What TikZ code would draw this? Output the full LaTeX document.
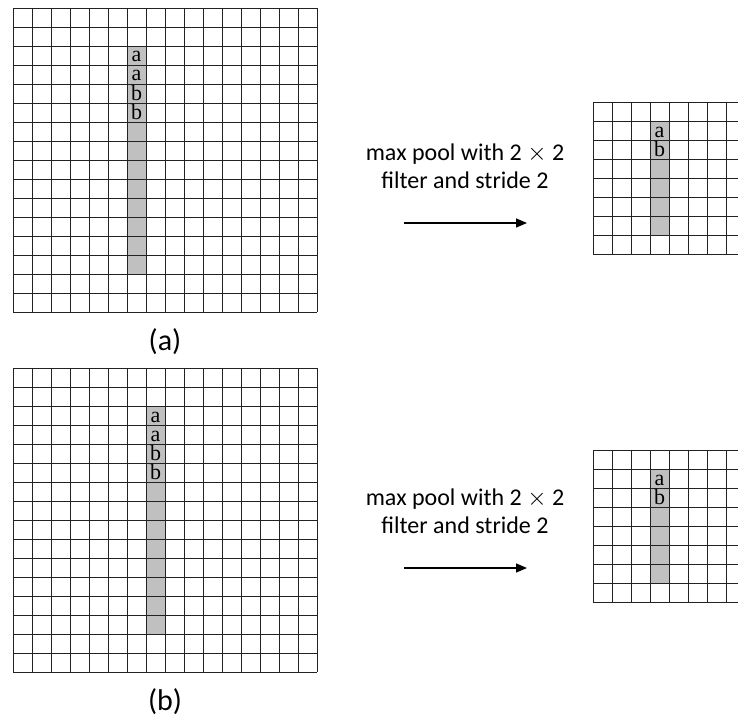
\documentclass[tikz,border=0pt]{standalone}
\usepackage{fontspec}
\setmainfont{Liberation Serif}
\newfontfamily\labelfont{Carlito}
\usepackage{xcolor}
\usepackage{tikz}
\usetikzlibrary{arrows.meta,positioning}
\definecolor{cellGray}{HTML}{C0C0C0}
\definecolor{lineDark}{HTML}{222222}

\begin{document}
\begin{tikzpicture}[x=1pt, y=-1pt, >={Triangle[length=11pt,width=9pt]},
    gridline/.style={draw=lineDark, line width=0.9pt},
    letter/.style={anchor=base, inner sep=0pt, font=\fontsize{22}{22}\selectfont},
    oplabel/.style={align=center, font=\labelfont\fontsize{24}{28}\selectfont},
    sublabel/.style={font=\labelfont\fontsize{30}{34}\selectfont}]
    \useasboundingbox (0,0) rectangle (738,717);
    \clip (0,0) rectangle (738,717);

    % (a) input map
    \fill[cellGray] (127,46) rectangle (146,274);
    \foreach \i in {0,...,16} {
        \draw[gridline] (13+19*\i,8) -- (13+19*\i,312);
        \draw[gridline] (13,8+19*\i) -- (317,8+19*\i);
    }
    \node[letter] (inA1) at (136.5,62) {a};
    \node[letter] (inA2) at (136.5,81) {a};
    \node[letter] (inA3) at (136.5,100) {b};
    \node[letter] (inA4) at (136.5,119) {b};

    % (a) pooled map
    \fill[cellGray] (650,121) rectangle (669,235);
    \foreach \i in {0,...,8} {
        \draw[gridline] (593+19*\i,102) -- (593+19*\i,254);
        \draw[gridline] (593,102+19*\i) -- (745,102+19*\i);
    }
    \node[letter] (outA1) at (659.5,137) {a};
    \node[letter] (outA2) at (659.5,156) {b};

    \node[oplabel] (opA) at (465,166) {max pool with 2 $\times$ 2\\filter and stride 2};
    \coordinate (arrA1) at (404,223);
    \coordinate (arrA2) at (527,223);
    \draw[->, line width=1.4pt] (arrA1) -- (arrA2);
    \node[sublabel] (capA) at (165,342) {(a)};

    % (b) input map
    \fill[cellGray] (146,406) rectangle (165,634);
    \foreach \i in {0,...,16} {
        \draw[gridline] (13+19*\i,368) -- (13+19*\i,672);
        \draw[gridline] (13,368+19*\i) -- (317,368+19*\i);
    }
    \node[letter] (inB1) at (155.5,422) {a};
    \node[letter] (inB2) at (155.5,441) {a};
    \node[letter] (inB3) at (155.5,460) {b};
    \node[letter] (inB4) at (155.5,479) {b};

    % (b) pooled map
    \fill[cellGray] (650,469) rectangle (669,583);
    \foreach \i in {0,...,8} {
        \draw[gridline] (593+19*\i,450) -- (593+19*\i,602);
        \draw[gridline] (593,450+19*\i) -- (745,450+19*\i);
    }
    \node[letter] (outB1) at (659.5,485) {a};
    \node[letter] (outB2) at (659.5,504) {b};

    \node[oplabel] (opB) at (465,511) {max pool with 2 $\times$ 2\\filter and stride 2};
    \coordinate (arrB1) at (404,568);
    \coordinate (arrB2) at (527,568);
    \draw[->, line width=1.4pt] (arrB1) -- (arrB2);
    \node[sublabel] (capB) at (165,702) {(b)};
\end{tikzpicture}
\end{document}
